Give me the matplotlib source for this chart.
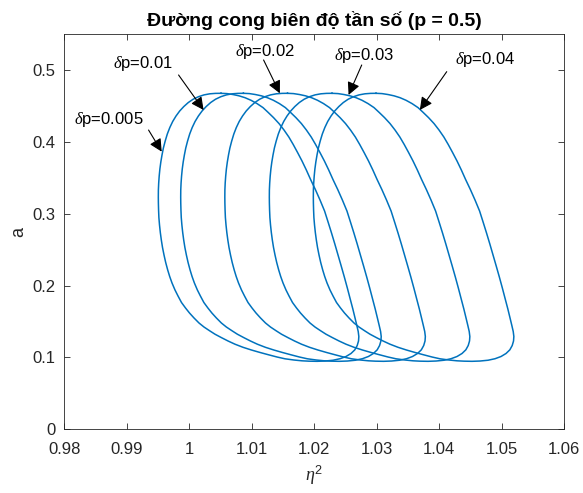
import matplotlib
matplotlib.use("Agg")
import matplotlib.pyplot as plt

plt.rcParams['font.family'] = ['Liberation Sans', 'DejaVu Sans']
plt.rcParams['mathtext.fontset'] = 'custom'
plt.rcParams['mathtext.rm'] = 'Liberation Sans'
plt.rcParams['mathtext.it'] = 'Liberation Serif:italic'
plt.rcParams['mathtext.bf'] = 'Liberation Sans:bold'

# amplitude a along each loop (same for every curve)
a_vals = [0.4675, 0.4671, 0.4658, 0.4640, 0.4614, 0.4578, 0.4532, 0.4476, 0.4411, 0.4337,
          0.4254, 0.4164, 0.4067, 0.3963, 0.3851, 0.3733, 0.3608, 0.3476, 0.3337, 0.3190,
          0.3037, 0.2884, 0.2731, 0.2578, 0.2425, 0.2272, 0.2119, 0.1966, 0.1813, 0.1674,
          0.1549, 0.1444, 0.1361, 0.1291, 0.1229, 0.1166, 0.1106, 0.1055, 0.1013, 0.0982,
          0.0961, 0.0950, 0.0946,
          0.0948, 0.0953, 0.0964, 0.0981, 0.1006, 0.1037, 0.1069, 0.1103, 0.1141, 0.1184,
          0.1229, 0.1275, 0.1323, 0.1372, 0.1423, 0.1479, 0.1549, 0.1618, 0.1688, 0.1764,
          0.1855, 0.1938, 0.2036, 0.2126, 0.2217, 0.2321, 0.2425, 0.2530, 0.2634, 0.2738,
          0.2843, 0.2947, 0.3051, 0.3149, 0.3232,
          0.3330, 0.3427, 0.3524, 0.3622, 0.3719, 0.3817, 0.3914, 0.4011, 0.4109, 0.4199,
          0.4283, 0.4359, 0.4429, 0.4491, 0.4547, 0.4593, 0.4628, 0.4653, 0.4668, 0.4674,
          0.4675]

# eta^2 values along the loop for each delta p
eta_0005 = [1.00509, 1.00605, 1.00701, 1.00797, 1.00893, 1.00989, 1.01085, 1.01181, 1.01261, 1.01349,
            1.01437, 1.01517, 1.01594, 1.01664, 1.01734, 1.01805, 1.01874, 1.01942, 1.02018, 1.02093,
            1.02166, 1.02222, 1.02277, 1.02330, 1.02381, 1.02432, 1.02482, 1.02530, 1.02576, 1.02618,
            1.02653, 1.02682, 1.02704, 1.02714, 1.02709, 1.02688, 1.02650, 1.02589, 1.02509, 1.02413,
            1.02301, 1.02173, 1.02045,
            1.01917, 1.01805, 1.01677, 1.01533, 1.01405, 1.01269, 1.01133, 1.00997, 1.00861, 1.00733,
            1.00621, 1.00517, 1.00413, 1.00325, 1.00237, 1.00157, 1.00077, 1.00005, 0.99941, 0.99877,
            0.99821, 0.99773, 0.99725, 0.99688, 0.99656, 0.99624, 0.99597, 0.99573, 0.99554, 0.99538,
            0.99525, 0.99515, 0.99510, 0.99507, 0.99506,
            0.99507, 0.99512, 0.99520, 0.99531, 0.99546, 0.99565, 0.99587, 0.99616, 0.99650, 0.99690,
            0.99736, 0.99789, 0.99848, 0.99914, 0.99986, 1.00064, 1.00149, 1.00237, 1.00330, 1.00421,
            1.00509]
eta_001 = [1.00867, 1.00963, 1.01059, 1.01155, 1.01251, 1.01347, 1.01443, 1.01539, 1.01619, 1.01707,
           1.01795, 1.01875, 1.01952, 1.02022, 1.02092, 1.02163, 1.02232, 1.02300, 1.02376, 1.02451,
           1.02524, 1.02580, 1.02635, 1.02688, 1.02739, 1.02790, 1.02840, 1.02888, 1.02934, 1.02976,
           1.03011, 1.03040, 1.03062, 1.03072, 1.03067, 1.03046, 1.03008, 1.02947, 1.02867, 1.02771,
           1.02659, 1.02531, 1.02403,
           1.02275, 1.02163, 1.02035, 1.01891, 1.01763, 1.01627, 1.01491, 1.01355, 1.01219, 1.01091,
           1.00979, 1.00875, 1.00771, 1.00683, 1.00595, 1.00515, 1.00435, 1.00363, 1.00299, 1.00235,
           1.00179, 1.00131, 1.00083, 1.00046, 1.00014, 0.99982, 0.99955, 0.99931, 0.99912, 0.99896,
           0.99883, 0.99873, 0.99868, 0.99865, 0.99864,
           0.99865, 0.99870, 0.99878, 0.99889, 0.99904, 0.99923, 0.99945, 0.99974, 1.00008, 1.00048,
           1.00094, 1.00147, 1.00206, 1.00272, 1.00344, 1.00422, 1.00507, 1.00595, 1.00688, 1.00779,
           1.00867]
eta_002 = [1.01573, 1.01669, 1.01765, 1.01861, 1.01957, 1.02053, 1.02149, 1.02245, 1.02325, 1.02413,
           1.02501, 1.02581, 1.02658, 1.02728, 1.02798, 1.02869, 1.02938, 1.03006, 1.03082, 1.03157,
           1.03230, 1.03286, 1.03341, 1.03394, 1.03445, 1.03496, 1.03546, 1.03594, 1.03640, 1.03682,
           1.03717, 1.03746, 1.03768, 1.03778, 1.03773, 1.03752, 1.03714, 1.03653, 1.03573, 1.03477,
           1.03365, 1.03237, 1.03109,
           1.02981, 1.02869, 1.02741, 1.02597, 1.02469, 1.02333, 1.02197, 1.02061, 1.01925, 1.01797,
           1.01685, 1.01581, 1.01477, 1.01389, 1.01301, 1.01221, 1.01141, 1.01069, 1.01005, 1.00941,
           1.00885, 1.00837, 1.00789, 1.00752, 1.00720, 1.00688, 1.00661, 1.00637, 1.00618, 1.00602,
           1.00589, 1.00579, 1.00574, 1.00571, 1.00570,
           1.00571, 1.00576, 1.00584, 1.00595, 1.00610, 1.00629, 1.00651, 1.00680, 1.00714, 1.00754,
           1.00800, 1.00853, 1.00912, 1.00978, 1.01050, 1.01128, 1.01213, 1.01301, 1.01394, 1.01485,
           1.01573]
eta_003 = [1.02285, 1.02381, 1.02477, 1.02573, 1.02669, 1.02765, 1.02861, 1.02957, 1.03037, 1.03125,
           1.03213, 1.03293, 1.03370, 1.03440, 1.03510, 1.03581, 1.03650, 1.03718, 1.03794, 1.03869,
           1.03942, 1.03998, 1.04053, 1.04106, 1.04157, 1.04208, 1.04258, 1.04306, 1.04352, 1.04394,
           1.04429, 1.04458, 1.04480, 1.04490, 1.04485, 1.04464, 1.04426, 1.04365, 1.04285, 1.04189,
           1.04077, 1.03949, 1.03821,
           1.03693, 1.03581, 1.03453, 1.03309, 1.03181, 1.03045, 1.02909, 1.02773, 1.02637, 1.02509,
           1.02397, 1.02293, 1.02189, 1.02101, 1.02013, 1.01933, 1.01853, 1.01781, 1.01717, 1.01653,
           1.01597, 1.01549, 1.01501, 1.01464, 1.01432, 1.01400, 1.01373, 1.01349, 1.01330, 1.01314,
           1.01301, 1.01291, 1.01286, 1.01283, 1.01282,
           1.01283, 1.01288, 1.01296, 1.01307, 1.01322, 1.01341, 1.01363, 1.01392, 1.01426, 1.01466,
           1.01512, 1.01565, 1.01624, 1.01690, 1.01762, 1.01840, 1.01925, 1.02013, 1.02106, 1.02197,
           1.02285]
eta_004 = [1.02989, 1.03085, 1.03181, 1.03277, 1.03373, 1.03469, 1.03565, 1.03661, 1.03741, 1.03829,
           1.03917, 1.03997, 1.04074, 1.04144, 1.04214, 1.04285, 1.04354, 1.04422, 1.04498, 1.04573,
           1.04646, 1.04702, 1.04757, 1.04810, 1.04861, 1.04912, 1.04962, 1.05010, 1.05056, 1.05098,
           1.05133, 1.05162, 1.05184, 1.05194, 1.05189, 1.05168, 1.05130, 1.05069, 1.04989, 1.04893,
           1.04781, 1.04653, 1.04525,
           1.04397, 1.04285, 1.04157, 1.04013, 1.03885, 1.03749, 1.03613, 1.03477, 1.03341, 1.03213,
           1.03101, 1.02997, 1.02893, 1.02805, 1.02717, 1.02637, 1.02557, 1.02485, 1.02421, 1.02357,
           1.02301, 1.02253, 1.02205, 1.02168, 1.02136, 1.02104, 1.02077, 1.02053, 1.02034, 1.02018,
           1.02005, 1.01995, 1.01990, 1.01987, 1.01986,
           1.01987, 1.01992, 1.02000, 1.02011, 1.02026, 1.02045, 1.02067, 1.02096, 1.02130, 1.02170,
           1.02216, 1.02269, 1.02328, 1.02394, 1.02466, 1.02544, 1.02629, 1.02717, 1.02810, 1.02901,
           1.02989]

curves = [eta_0005, eta_001, eta_002, eta_003, eta_004]

# annotation labels: text centre, arrow tail, arrow tip
labels = [r'$\delta$p=0.005', r'$\delta$p=0.01', r'$\delta$p=0.02', r'$\delta$p=0.03', r'$\delta$p=0.04']
text_pos = [(0.9872, 0.4304), (0.9927, 0.5093), (1.0122, 0.5254), (1.0280, 0.5208), (1.0474, 0.5139)]
tail_pos = [(0.9935, 0.4164), (0.9983, 0.4930), (1.0119, 0.5139), (1.0276, 0.5069), (1.0412, 0.4976)]
tip_pos = [(0.9956, 0.3863), (1.0023, 0.4443), (1.0145, 0.4675), (1.0255, 0.4652), (1.0369, 0.4443)]

fig = plt.figure(figsize=(5.83, 4.93), dpi=100)
ax = fig.add_axes([0.1101, 0.1292, 0.8577, 0.8018])

for eta in curves:
    ax.plot(eta, a_vals, color='#0072BD', lw=1.1)

for lab, tp, tl, tip in zip(labels, text_pos, tail_pos, tip_pos):
    ax.text(tp[0], tp[1], lab, ha='center', va='center', fontsize=12)
    ax.annotate('', xy=tip, xytext=tl,
                arrowprops=dict(arrowstyle='-|>', color='k', lw=0.8,
                                mutation_scale=19, shrinkA=0, shrinkB=0))

ax.set_xlim(0.98, 1.06)
ax.set_ylim(0, 0.55)
ax.set_xticks([0.98, 0.99, 1.0, 1.01, 1.02, 1.03, 1.04, 1.05, 1.06])
ax.set_xticklabels(['0.98', '0.99', '1', '1.01', '1.02', '1.03', '1.04', '1.05', '1.06'])
ax.set_yticks([0, 0.1, 0.2, 0.3, 0.4, 0.5])
ax.set_yticklabels(['0', '0.1', '0.2', '0.3', '0.4', '0.5'])
ax.tick_params(direction='in', top=True, right=True, length=4, width=0.6,
               labelsize=12, colors='#262626')
ax.tick_params(axis='x', pad=9)
ax.tick_params(axis='y', pad=6)
for sp in ax.spines.values():
    sp.set_color('#262626')
    sp.set_linewidth(0.6)

ax.set_xlabel(r'$\eta^2$', fontsize=13, color='#262626', labelpad=5)
ax.set_ylabel('a', fontsize=13, color='#262626')
ax.set_title('Đường cong biên độ tần số (p = 0.5)', fontsize=14, fontweight='bold', pad=6)

fig.savefig('out.png', dpi=100)
